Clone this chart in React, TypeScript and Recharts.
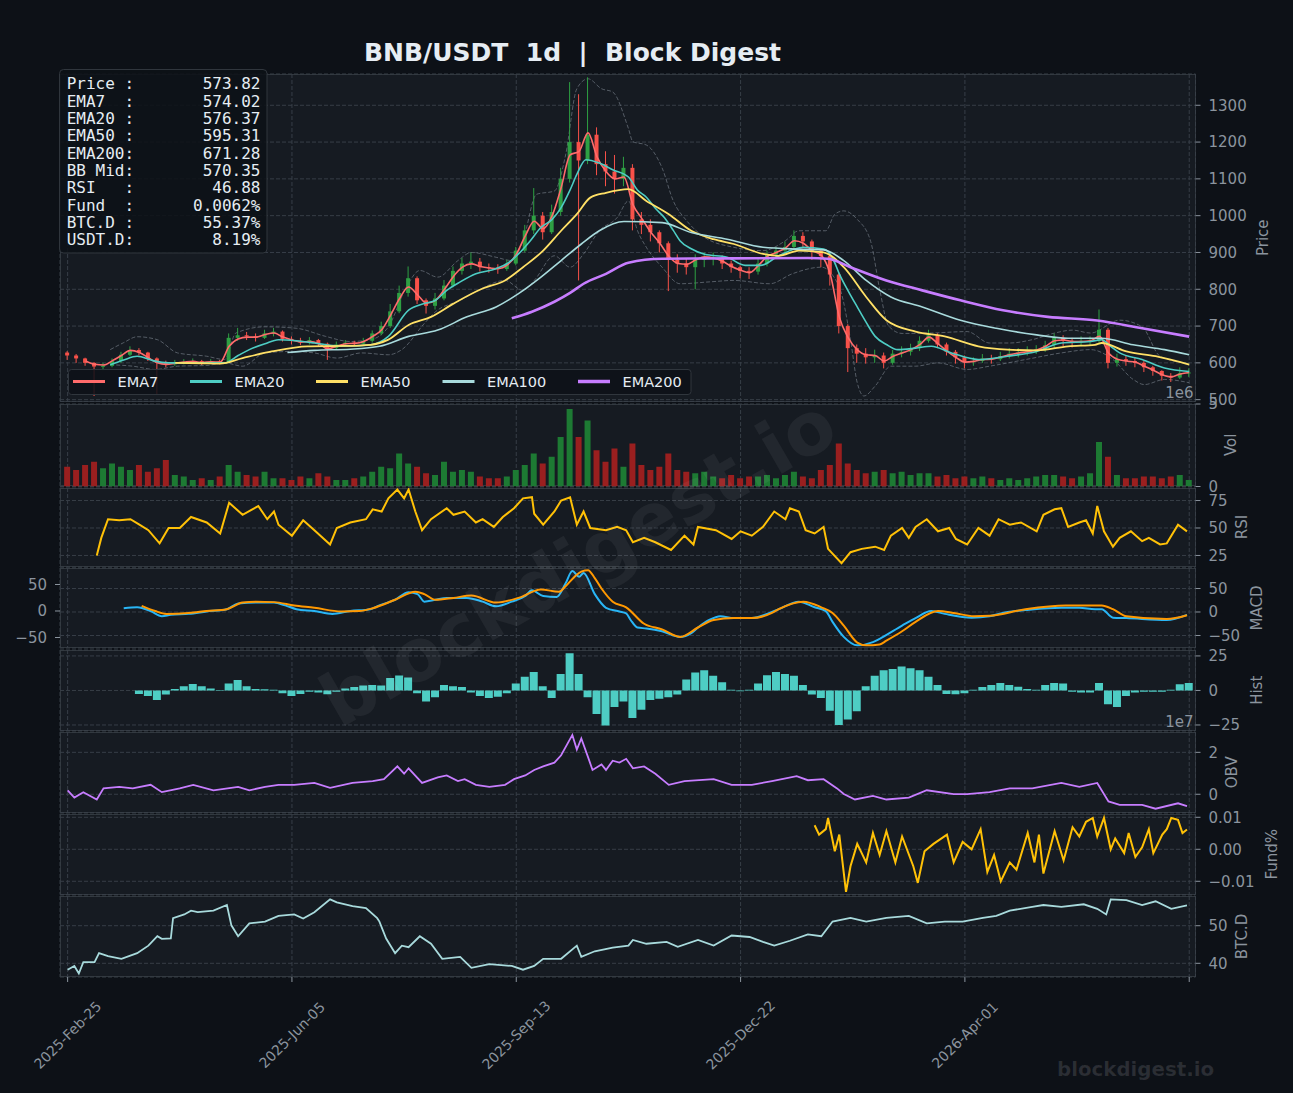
import React from 'react';
import { Bar, CartesianGrid, Cell, ComposedChart, Line, XAxis, YAxis } from 'recharts';

const W = 1293;
const H = 1093;
const BG = '#0d1117';
const PANEL_BG = '#161b22';
const SPINE = '#30363d';
const GRID = '#373e47';
const MUTED = '#8b949e';
const TEXT = '#e6edf3';
const FONT = 'DejaVu Sans, sans-serif';
const MONO = 'DejaVu Sans Mono, monospace';
const UP = '#2ea043';
const DOWN = '#f85149';
const UP_VOL = '#1d7a33';
const DOWN_VOL = '#9a1f1f';

// x axis: days since 2025-02-25
const X_DOMAIN: [number, number] = [-3.4, 502.8];
const X_TICKS = [0, 100, 200, 300, 400, 500];
const X_LABELS = ['2025-Feb-25', '2025-Jun-05', '2025-Sep-13', '2025-Dec-22', '2026-Apr-01', ''];

// candles, one every 4 days
const CANDLE_STEP = 4;
const FIRST_OPEN = 628;
const candleClose = [
  620, 612, 600, 590, 592, 605, 622, 635, 628, 612,
  600, 596, 600, 603, 605, 600, 604, 602, 668, 675,
  672, 668, 680, 685, 665, 660, 655, 662, 652, 640,
  650, 655, 652, 660, 680, 700, 740, 790, 830, 770,
  755, 775, 810, 850, 870, 875, 860, 858, 855, 870,
  905, 960, 1000, 955, 1010, 1100, 1200, 1150, 1220, 1140,
  1120, 1100, 1130, 990, 975, 955, 925, 880, 870, 860,
  880, 885, 885, 870, 860, 850, 848, 870, 895, 905,
  915, 945, 930, 905, 890, 840, 700, 640, 625, 615,
  620, 600, 625, 630, 640, 660, 675, 650, 630, 615,
  602, 605, 612, 610, 618, 625, 628, 632, 636, 648,
  668, 660, 655, 660, 660, 690, 600, 610, 605, 600,
  588, 578, 565, 560, 572, 573.82,
];
const candleHigh = [
  632, 624, 614, 602, 600, 612, 630, 645, 640, 630,
  615, 606, 608, 610, 612, 608, 610, 608, 680, 695,
  684, 680, 690, 695, 688, 672, 668, 670, 665, 655,
  658, 662, 660, 668, 688, 712, 760, 810, 862, 835,
  775, 790, 825, 862, 885, 900, 885, 870, 868, 880,
  915, 975, 1075, 1010, 1030, 1130, 1363, 1330, 1376, 1240,
  1175, 1165, 1160, 1140, 1010, 990, 960, 930, 895, 885,
  895, 900, 900, 892, 878, 865, 860, 882, 905, 915,
  930, 960, 955, 935, 910, 895, 845, 705, 650, 640,
  636, 628, 635, 645, 652, 672, 690, 680, 655, 635,
  620, 615, 624, 622, 630, 640, 640, 645, 648, 660,
  680, 675, 668, 672, 672, 745, 695, 625, 620, 615,
  605, 592, 580, 572, 588, 585,
];
const candleLow = [
  608, 600, 592, 510, 580, 588, 600, 618, 620, 605,
  515, 588, 592, 596, 598, 594, 597, 596, 600, 660,
  662, 658, 665, 672, 658, 650, 648, 650, 645, 608,
  635, 645, 646, 650, 655, 675, 695, 735, 780, 760,
  734, 745, 770, 805, 840, 855, 848, 845, 842, 850,
  865, 900, 950, 935, 950, 1000, 1090, 824, 1140, 1110,
  1080, 1060, 1080, 960, 950, 930, 900, 795, 845, 840,
  800, 860, 865, 855, 845, 830, 828, 840, 862, 885,
  895, 910, 915, 880, 860, 810, 680, 575, 600, 598,
  600, 585, 595, 615, 620, 632, 655, 640, 620, 598,
  585, 592, 600, 598, 605, 612, 615, 620, 624, 630,
  640, 645, 642, 645, 648, 655, 585, 590, 592, 588,
  575, 565, 552, 548, 556, 562,
];
// volume, millions
const candleVol = [
  1.2, 1.0, 1.3, 1.5, 1.1, 1.4, 1.2, 1.0, 1.3, 0.9,
  1.1, 1.6, 0.7, 0.6, 0.4, 0.5, 0.4, 0.6, 1.3, 0.9,
  0.7, 0.6, 0.9, 0.5, 0.5, 0.4, 0.6, 0.5, 0.8, 0.6,
  0.4, 0.4, 0.5, 0.6, 0.9, 1.2, 1.1, 2.0, 1.4, 1.2,
  0.8, 0.7, 1.5, 0.9, 1.0, 0.9, 0.6, 0.5, 0.5, 0.6,
  1.0, 1.3, 2.0, 1.4, 1.8, 3.0, 4.7, 3.0, 4.0, 2.2,
  1.5, 2.3, 1.2, 2.6, 1.3, 1.0, 1.2, 2.0, 1.0, 0.9,
  0.8, 0.9, 0.6, 0.5, 0.7, 0.5, 0.6, 0.6, 0.7, 0.5,
  0.7, 0.9, 0.6, 0.5, 1.0, 1.3, 2.6, 1.4, 1.0, 0.8,
  0.9, 1.0, 0.8, 0.9, 0.7, 0.8, 0.8, 0.6, 0.7, 0.5,
  0.6, 0.5, 0.6, 0.5, 0.4, 0.5, 0.4, 0.5, 0.6, 0.7,
  0.7, 0.6, 0.5, 0.6, 0.8, 2.7, 1.8, 0.7, 0.5, 0.5,
  0.6, 0.6, 0.5, 0.6, 0.7, 0.4,
];
const ema7 = [
  null, null, 605, 596, 594, 606, 620, 634, 628, 614,
  600, 596, 599, 602, 604, 601, 603, 602, 645, 665,
  670, 670, 677, 681, 670, 662, 657, 658, 652, 638,
  645, 652, 653, 658, 672, 690, 730, 775, 806, 785,
  762, 770, 800, 835, 860, 869, 862, 858, 856, 866,
  895, 945, 985, 965, 1000, 1076, 1165, 1175, 1225, 1160,
  1120, 1100, 1105, 1030, 992, 955, 925, 890, 870, 868,
  880, 888, 885, 876, 862, 852, 845, 865, 890, 900,
  912, 932, 925, 905, 892, 840, 725, 668, 636, 622,
  620, 605, 618, 627, 636, 650, 670, 652, 632, 615,
  602, 604, 609, 610, 616, 622, 627, 630, 635, 645,
  660, 662, 658, 658, 660, 672, 627, 610, 605, 602,
  591, 580, 568, 562, 570, 574.02,
];

const ema20Pts = [
  [19, 595], [25, 608], [31, 618], [38, 606], [45, 600], [55, 600], [70, 600], [76, 620], [81, 636], [88, 652],
  [94, 663], [102, 660], [110, 654], [118, 647], [123, 645], [135, 649], [143, 672], [152, 743], [159, 761], [164, 770],
  [169, 797], [175, 820], [182, 842], [191, 856], [196, 870], [201, 896], [206, 930], [211, 968], [216, 990], [220, 1022],
  [224, 1070], [227, 1112], [231, 1152], [237, 1143], [243, 1125], [250, 1105], [254, 1070], [258, 1050], [262, 1020], [266, 995],
  [270, 960], [273, 932], [278, 910], [284, 895], [294, 887], [302, 865], [309, 865], [317, 891], [328, 914], [337, 909],
  [341, 885], [344, 842], [348, 795], [352, 752], [356, 710], [360, 672], [365, 650], [370, 636], [378, 640], [385, 645],
  [394, 627], [406, 609], [419, 618], [432, 631], [443, 654], [456, 658], [461, 663], [465, 645], [469, 627], [479, 609],
  [489, 586], [500, 576.37],
];
const ema50Pts = [
  [48, 600], [60, 599], [68, 598], [78, 613], [91, 631], [107, 645], [123, 646], [135, 649], [143, 663], [152, 703],
  [162, 725], [172, 761], [185, 802], [195, 824], [203, 860], [212, 905], [220, 959], [227, 1004], [233, 1049], [240, 1062],
  [250, 1072], [258, 1040], [268, 1004], [278, 959], [288, 936], [297, 923], [310, 896], [317, 891], [326, 905], [337, 900],
  [346, 860], [356, 779], [365, 716], [378, 685], [391, 672], [406, 645], [419, 636], [432, 634], [446, 645], [458, 649],
  [461, 654], [472, 631], [485, 618], [500, 595.31],
];
const ema100Pts = [
  [98, 628], [110, 634], [126, 637], [139, 645], [152, 672], [165, 689], [178, 725], [191, 752], [201, 788], [211, 833],
  [220, 878], [229, 923], [237, 959], [248, 984], [265, 981], [278, 954], [294, 936], [310, 914], [326, 909], [337, 907],
  [346, 878], [356, 824], [367, 779], [381, 752], [398, 716], [414, 694], [432, 676], [446, 667], [461, 667], [475, 649],
  [489, 636], [500, 622],
];
const ema200Pts = [
  [198, 721], [207, 739], [217, 766], [224, 790], [230, 815], [240, 842], [250, 872], [265, 883], [297, 884], [330, 885],
  [339, 883], [349, 860], [365, 824], [381, 797], [398, 770], [417, 743], [437, 725], [459, 715], [479, 694], [500, 671.28],
];
const bbUpperPts = [
  [19, 636], [25, 655], [31, 671], [40, 663], [49, 627], [62, 618], [70, 609], [75, 681], [88, 698], [102, 694],
  [115, 672], [126, 658], [135, 663], [143, 698], [151, 806], [157, 851], [165, 833], [174, 878], [180, 900], [191, 887],
  [198, 878], [203, 932], [209, 1058], [217, 1067], [222, 1165], [227, 1345], [232, 1372], [238, 1345], [243, 1336], [250, 1237],
  [252, 1201], [258, 1192], [265, 1130], [270, 1040], [276, 986], [284, 941], [297, 914], [310, 905], [320, 932], [326, 959],
  [338, 959], [342, 1004], [346, 1013], [352, 990], [358, 930], [362, 800], [366, 700], [372, 680], [385, 681], [401, 685],
  [411, 654], [420, 654], [430, 663], [440, 681], [448, 689], [456, 681], [469, 716], [479, 698], [487, 618], [500, 598],
];
const bbLowerPts = [
  [19, 595], [29, 591], [39, 582], [49, 591], [62, 593], [70, 600], [78, 591], [88, 627], [100, 631], [110, 627],
  [120, 613], [131, 627], [143, 622], [149, 636], [159, 707], [164, 739], [175, 770], [183, 797], [195, 824], [203, 797],
  [208, 824], [217, 891], [224, 860], [230, 896], [237, 959], [245, 995], [250, 1040], [254, 960], [258, 914], [265, 860],
  [273, 815], [286, 820], [297, 824], [313, 815], [323, 842], [336, 860], [344, 806], [349, 663], [352, 546], [355, 510],
  [360, 537], [367, 591], [378, 591], [388, 600], [401, 582], [411, 591], [427, 609], [443, 627], [456, 636], [466, 609],
  [475, 555], [480, 541], [489, 555], [500, 546],
];

const rsiPts = [
  [13, 25], [15, 41], [18, 58], [23, 57], [28, 58], [32, 53], [36, 48], [41, 36], [45, 50], [50, 50],
  [55, 60], [62, 55], [68, 45], [72, 73], [78, 62], [85, 70], [89, 58], [92, 65], [94, 53], [100, 43],
  [105, 57], [110, 48], [117, 35], [120, 50], [126, 55], [133, 58], [136, 67], [140, 65], [143, 77], [147, 85],
  [150, 77], [152, 85], [155, 65], [158, 48], [162, 58], [169, 68], [172, 62], [177, 65], [182, 55], [185, 58],
  [190, 51], [194, 60], [199, 68], [203, 77], [207, 78], [208, 63], [212, 53], [217, 65], [220, 75], [224, 78],
  [227, 53], [230, 65], [233, 50], [240, 48], [245, 51], [249, 48], [252, 37], [257, 41], [262, 37], [269, 30],
  [275, 43], [279, 35], [281, 51], [289, 48], [296, 40], [300, 47], [305, 43], [310, 51], [315, 65], [320, 58],
  [322, 68], [326, 65], [329, 48], [333, 45], [337, 51], [339, 31], [345, 18], [349, 28], [354, 31], [360, 33],
  [364, 30], [367, 43], [372, 50], [375, 41], [378, 51], [383, 58], [388, 47], [393, 50], [396, 40], [401, 35],
  [406, 50], [411, 43], [415, 58], [420, 53], [425, 55], [432, 47], [435, 62], [440, 67], [443, 68], [446, 51],
  [451, 55], [454, 57], [457, 45], [459, 70], [462, 47], [466, 33], [469, 41], [474, 47], [479, 38], [482, 41],
  [487, 35], [490, 36], [495, 53], [499, 46.88],
];
const macdPts = [
  [25, 8], [31, 10], [37, 2], [42, -9], [46, -6], [54, -4], [62, 1], [71, 6], [76, 18], [84, 20],
  [92, 20], [97, 14], [102, 6], [110, 2], [118, -4], [126, 2], [135, 6], [139, 14], [146, 26], [152, 42],
  [156, 38], [159, 22], [164, 26], [169, 30], [178, 30], [185, 22], [191, 12], [198, 22], [204, 34], [207, 46],
  [212, 34], [218, 32], [222, 61], [225, 87], [228, 75], [230, 83], [235, 38], [240, 9], [246, 1], [249, -3],
  [251, -17], [254, -33], [258, -35], [265, -41], [273, -53], [278, -45], [281, -33], [286, -17], [291, -9], [297, -13],
  [305, -13], [313, -2], [317, 6], [326, 22], [333, 10], [338, 2], [341, -21], [346, -53], [352, -71], [359, -64],
  [362, -57], [372, -29], [378, -13], [385, 2], [391, -4], [403, -12], [411, -9], [419, 0], [427, 4], [443, 9],
  [451, 9], [458, 6], [461, 6], [466, -12], [472, -13], [490, -17], [499, -6],
];
const signalPts = [
  [33, 13], [39, 2], [44, -4], [54, -2], [62, 2], [71, 6], [78, 20], [84, 22], [92, 21], [101, 14],
  [110, 9], [122, 1], [130, 2], [136, 8], [146, 26], [155, 43], [159, 38], [164, 26], [172, 30], [180, 35],
  [191, 20], [201, 30], [211, 48], [219, 43], [222, 55], [226, 75], [229, 86], [232, 89], [235, 72], [238, 50],
  [243, 22], [249, 10], [257, -25], [265, -37], [273, -53], [281, -33], [288, -17], [297, -13], [305, -13], [314, -2],
  [317, 6], [328, 22], [336, 10], [341, -2], [346, -29], [352, -65], [356, -71], [362, -69], [365, -61], [372, -41],
  [378, -21], [388, 2], [395, -2], [404, -9], [411, -8], [427, 6], [445, 14], [461, 14], [466, 6], [472, -9],
  [490, -15], [499, -7],
];
// histogram every 4 days from day 32
const HIST_START = 32;
const histVals = [
  -2.5, -4, -7, -3, 1, 3, 4.7, 3, 1.5, 0.3,
  5, 7.5, 3, 1, 0.8, 0.5, -2, -4, -2.5, -1,
  -1.5, -2.7, -1, 1.5, 2.5, 3.5, 4, 3.5, 9, 10.8,
  9.4, -2, -8, -5, 4, 3, 2.5, -1.5, -4, -5.4,
  -4.5, -2, 5, 10, 13.4, 3, -5.4, 12, 27, 12,
  -5, -17, -25.4, -12, -8, -20, -14, -7, -6, -5,
  -3, 8, 13, 14.7, 10.7, 6, 0.5, -0.5, 0.5, 5,
  11, 13.4, 12, 10.7, 4, -3, -5.4, -14.7, -25, -21,
  -15, 3, 10.7, 14.7, 15.5, 17.4, 16, 14.7, 10, 4,
  -2.5, -2.7, -2, 0.5, 2.5, 4, 5.4, 4, 2.7, 1,
  0.5, 4, 5.4, 5, -1, -1.5, -1.5, 5.4, -10, -12,
  -4, -1.5, -1, -1, -1, 0.5, 4.5, 5.4,
];
// OBV, units of 1e7
const obvPts = [
  [0, 0.19], [3, -0.16], [7, 0.1], [13, -0.25], [16, 0.28], [23, 0.35], [29, 0.28], [37, 0.45], [42, 0.1], [50, 0.28],
  [56, 0.45], [65, 0.19], [76, 0.35], [81, 0.19], [88, 0.35], [94, 0.45], [101, 0.45], [110, 0.54], [117, 0.31], [127, 0.54],
  [136, 0.63], [141, 0.72], [147, 1.33], [150, 0.98], [152, 1.24], [158, 0.54], [165, 0.81], [169, 0.9], [174, 0.63], [177, 0.72],
  [182, 0.45], [188, 0.35], [195, 0.45], [199, 0.72], [204, 0.9], [208, 1.16], [212, 1.33], [217, 1.51], [220, 1.86], [225, 2.83],
  [227, 2.13], [229, 2.66], [232, 1.77], [234, 1.16], [238, 1.42], [240, 1.16], [243, 1.6], [246, 1.51], [249, 1.69], [252, 1.24],
  [257, 1.33], [262, 0.98], [268, 0.45], [275, 0.63], [288, 0.72], [296, 0.45], [305, 0.45], [314, 0.63], [325, 0.86], [330, 0.67],
  [337, 0.72], [343, 0.28], [346, 0.01], [351, -0.25], [359, -0.08], [365, -0.25], [375, -0.16], [383, 0.19], [395, 0.01], [401, 0.01],
  [411, 0.1], [420, 0.28], [430, 0.28], [443, 0.54], [451, 0.35], [459, 0.54], [464, -0.34], [469, -0.51], [479, -0.51], [485, -0.69],
  [495, -0.43], [499, -0.57],
];
// funding rate, percent
const fundPts = [
  [333, 0.0075], [335, 0.0046], [338, 0.0063], [339, 0.0098], [342, -0.0006], [344, 0.0046], [347, -0.0133], [349, -0.0053], [352, 0.0017], [354, -0.0012],
  [356, -0.0041], [359, 0.0051], [362, -0.0018], [365, 0.0057], [369, -0.0041], [372, 0.004], [377, -0.0053], [379, -0.0105], [382, -0.0006], [386, 0.0017],
  [392, 0.0046], [395, -0.0041], [399, 0.0023], [403, 0], [407, 0.0063], [410, -0.0071], [413, -0.0018], [416, -0.01], [420, -0.0041], [423, -0.0064],
  [425, -0.0018], [428, 0.0051], [431, -0.0041], [433, 0.0046], [435, -0.0076], [440, 0.0057], [444, -0.0035], [448, 0.0069], [451, 0.004], [454, 0.0086],
  [457, 0.0098], [459, 0.004], [462, 0.0098], [465, 0], [467, 0.0034], [471, -0.0012], [473, 0.0051], [476, -0.0024], [479, 0.0006], [482, 0.0063],
  [484, -0.0012], [488, 0.0046], [490, 0.0063], [492, 0.0098], [495, 0.0092], [497, 0.0051], [499, 0.0062],
];
const btcdPts = [
  [0, 38.3], [3, 39.3], [5, 37.3], [7, 40.3], [12, 40.3], [14, 42.7], [18, 41.9], [24, 41.2], [31, 42.7], [36, 44.7],
  [40, 47.2], [42, 46.5], [46, 46.6], [47, 52], [52, 53], [55, 54], [58, 53.6], [65, 54], [71, 55.5], [73, 50.1],
  [76, 47.2], [81, 50.6], [88, 51.1], [94, 52.6], [101, 53], [105, 51.9], [110, 53.6], [117, 57], [120, 56.2], [127, 55.2],
  [133, 54.7], [138, 52], [139, 51.1], [142, 46.6], [146, 42.7], [149, 44.7], [152, 44.3], [157, 47.2], [162, 45.2], [167, 41.2],
  [175, 41.7], [180, 38.8], [188, 39.8], [198, 39.3], [203, 38.3], [208, 39.3], [212, 41.2], [220, 41.2], [227, 44.7], [229, 41.7],
  [235, 43.2], [243, 44.2], [250, 44.7], [252, 46.2], [258, 45.2], [267, 45.7], [272, 44.4], [281, 46.2], [288, 44.7], [296, 47.4],
  [304, 47], [310, 45.7], [315, 44.7], [322, 46], [330, 47.7], [336, 47.2], [341, 51.1], [349, 52.1], [356, 51.1], [365, 52.1],
  [375, 52.6], [383, 50.6], [391, 51.1], [399, 51.1], [408, 52.1], [414, 52.6], [420, 54], [430, 55], [435, 55.5], [443, 55],
  [453, 55.7], [459, 54.5], [463, 53], [465, 57], [472, 56.8], [479, 55.5], [485, 56.5], [492, 54.5], [499, 55.4],
];

const INFO = [
  ['Price :', '573.82'],
  ['EMA7  :', '574.02'],
  ['EMA20 :', '576.37'],
  ['EMA50 :', '595.31'],
  ['EMA200:', '671.28'],
  ['BB Mid:', '570.35'],
  ['RSI   :', '46.88'],
  ['Fund  :', '0.0062%'],
  ['BTC.D :', '55.37%'],
  ['USDT.D:', '8.19%'],
];

const EMA_SERIES = [
  { key: 'e7', label: 'EMA7', color: '#ff6b6b', width: 1.6, lx: 73 },
  { key: 'e20', label: 'EMA20', color: '#4ecdc4', width: 1.6, lx: 190 },
  { key: 'e50', label: 'EMA50', color: '#ffe066', width: 1.8, lx: 316 },
  { key: 'e100', label: 'EMA100', color: '#a8dadc', width: 1.6, lx: 442.5 },
  { key: 'e200', label: 'EMA200', color: '#c77dff', width: 2.6, lx: 578 },
];

function merge(cols: Record<string, number[][]>) {
  const rows = new Map<number, Record<string, number>>();
  Object.entries(cols).forEach(([key, pts]) => {
    pts.forEach(([x, v]) => {
      const row = rows.get(x) ?? { x };
      row[key] = v;
      rows.set(x, row);
    });
  });
  return Array.from(rows.values()).sort((a, b) => a.x - b.x);
}

const candleDays = candleClose.map((_, i) => i * CANDLE_STEP);
const candleRows = candleClose.map((c, i) => ({
  x: candleDays[i],
  o: i ? candleClose[i - 1] : FIRST_OPEN,
  h: candleHigh[i],
  l: candleLow[i],
  c,
}));
const volRows = candleRows.map((r, i) => ({ x: r.x, v: candleVol[i], up: r.c >= r.o }));
const histRows = histVals.map((v, i) => ({ x: HIST_START + i * CANDLE_STEP, h: v }));
const ema7Pts = ema7.map((v, i) => [candleDays[i], v]).filter((p) => p[1] != null) as number[][];
const emaRows = merge({ e7: ema7Pts, e20: ema20Pts, e50: ema50Pts, e100: ema100Pts, e200: ema200Pts });
const bbRows = merge({ up: bbUpperPts, lo: bbLowerPts });
const macdRows = merge({ macd: macdPts, sig: signalPts });
const rsiRows = merge({ rsi: rsiPts });
const obvRows = merge({ obv: obvPts });
const fundRows = merge({ fund: fundPts });
const btcRows = merge({ btc: btcdPts });

const num = (v: number) => (v < 0 ? '\u2212' + Math.abs(v) : String(v));
const fund2 = (v: number) => (v < 0 ? '\u2212' : '') + Math.abs(v).toFixed(2);

const Candle = (p: any) => {
  const { x, y, width, height, payload } = p;
  if (!payload || payload.c == null || !Number.isFinite(y) || !Number.isFinite(height)) return null;
  const top = Math.min(y, y + height);
  const bot = Math.max(y, y + height);
  const span = payload.h - payload.l || 1;
  const py = (v: number) => top + ((payload.h - v) / span) * (bot - top);
  const up = payload.c >= payload.o;
  const col = up ? UP : DOWN;
  const cx = x + width / 2;
  const bTop = py(Math.max(payload.o, payload.c));
  const bBot = py(Math.min(payload.o, payload.c));
  return (
    <g>
      <line x1={cx} x2={cx} y1={top} y2={bot} stroke={col} strokeWidth={1} />
      <rect x={x} y={bTop} width={width} height={Math.max(1, bBot - bTop)} fill={col} />
    </g>
  );
};

const XTick = (p: any) => {
  const { x, y, payload } = p;
  const label = X_LABELS[X_TICKS.indexOf(payload.value)];
  if (!label) return null;
  const cy = y + 51;
  return (
    <text x={x} y={cy} transform={`rotate(-45 ${x} ${cy})`} textAnchor="middle" dominantBaseline="central"
      fill={MUTED} fontSize={14} fontFamily={FONT}>
      {label}
    </text>
  );
};

const NoTick = () => <g />;

type PanelProps = {
  top: number;
  h: number;
  data: any[];
  domain: [number, number];
  ticks: number[];
  fmt?: (v: number) => string;
  visible?: boolean;
  bottom?: boolean;
  left?: { domain: [number, number]; ticks: number[] };
  children?: React.ReactNode;
};

function Panel({ top, h, data, domain, ticks, fmt, visible = true, bottom = false, left, children }: PanelProps) {
  return (
    <div style={{ position: 'absolute', left: 0, top }}>
      <ComposedChart width={W} height={h + (bottom ? 100 : 0)} data={data}
        margin={{ top: 0, right: 22.5, bottom: 0, left: left ? 0 : 60 }}>
        {visible && <CartesianGrid stroke={GRID} strokeDasharray="4 2" />}
        <XAxis dataKey="x" type="number" domain={X_DOMAIN} allowDataOverflow ticks={X_TICKS} interval={0}
          height={bottom ? 100 : 0} axisLine={false} tickSize={5}
          tick={bottom ? (tp: any) => <XTick {...tp} /> : NoTick}
          tickLine={bottom ? { stroke: MUTED } : false} />
        <YAxis orientation="right" type="number" domain={domain} allowDataOverflow ticks={ticks} interval={0}
          width={75} tickSize={5} tickMargin={8} axisLine={false}
          tick={visible ? { fill: MUTED, fontSize: 15, fontFamily: FONT } : false}
          tickLine={visible ? { stroke: MUTED } : false}
          tickFormatter={fmt ?? num} />
        {left && (
          <YAxis yAxisId="l" orientation="left" type="number" domain={left.domain} allowDataOverflow ticks={left.ticks}
            interval={0} width={60} tickSize={5} tickMargin={8} axisLine={false}
            tick={{ fill: MUTED, fontSize: 15, fontFamily: FONT }} tickLine={{ stroke: MUTED }} tickFormatter={num} />
        )}
        {children}
      </ComposedChart>
    </div>
  );
}

const FRAMES = [
  { top: 74, h: 327.5 },
  { top: 403.5, h: 82.5 },
  { top: 487.5, h: 79 },
  { top: 568, h: 80 },
  { top: 650, h: 80.5 },
  { top: 732, h: 80.5 },
  { top: 814, h: 80.5 },
  { top: 896, h: 81 },
];

const AXIS_TITLES: [string, number, number][] = [
  ['Price', 1263, 237.75],
  ['Vol', 1231, 444.75],
  ['RSI', 1242, 527],
  ['MACD', 1256.5, 608],
  ['Hist', 1256.5, 690.25],
  ['OBV', 1232, 772.25],
  ['Fund%', 1271.5, 854.25],
  ['BTC.D', 1242, 936.5],
];

export default function App() {
  const [pr, vo, rs, ma, hi, ob, fu, bt] = FRAMES;
  return (
    <div style={{ position: 'absolute', left: 0, top: 0, width: W, height: H, background: BG, overflow: 'hidden', fontFamily: FONT }}>
      <style>{'.recharts-surface { overflow: visible; }'}</style>
      {FRAMES.map((f, i) => (
        <div key={i} style={{ position: 'absolute', left: 60, top: f.top, width: 1135.5, height: f.h,
          background: PANEL_BG, border: `1px solid ${SPINE}`, boxSizing: 'border-box' }} />
      ))}

      {/* price: bands + grid */}
      <Panel top={pr.top} h={pr.h} data={bbRows} domain={[495, 1385]} ticks={[500, 600, 700, 800, 900, 1000, 1100, 1200, 1300]}>
        <Line dataKey="up" type="monotone" stroke={MUTED} strokeOpacity={0.55} strokeWidth={1} strokeDasharray="4 2"
          dot={false} connectNulls isAnimationActive={false} />
        <Line dataKey="lo" type="monotone" stroke={MUTED} strokeOpacity={0.55} strokeWidth={1} strokeDasharray="4 2"
          dot={false} connectNulls isAnimationActive={false} />
      </Panel>
      {/* price: candles */}
      <Panel top={pr.top} h={pr.h} data={candleRows} domain={[495, 1385]} ticks={[500]} visible={false}>
        <Bar dataKey={(r: any) => [r.l, r.h]} barSize={4} shape={Candle} isAnimationActive={false} />
      </Panel>
      {/* price: moving averages */}
      <Panel top={pr.top} h={pr.h} data={emaRows} domain={[495, 1385]} ticks={[500]} visible={false}>
        {EMA_SERIES.map((s) => (
          <Line key={s.key} dataKey={s.key} type="monotone" stroke={s.color} strokeWidth={s.width}
            dot={false} connectNulls isAnimationActive={false} />
        ))}
      </Panel>

      <Panel top={vo.top} h={vo.h} data={volRows} domain={[0, 5]} ticks={[0, 5]}>
        <Bar dataKey="v" barSize={6} isAnimationActive={false}>
          {volRows.map((r, i) => (
            <Cell key={i} fill={r.up ? UP_VOL : DOWN_VOL} />
          ))}
        </Bar>
      </Panel>

      <Panel top={rs.top} h={rs.h} data={rsiRows} domain={[14.5, 86.4]} ticks={[25, 50, 75]}>
        <Line dataKey="rsi" type="linear" stroke="#ffc107" strokeWidth={2} dot={false} connectNulls isAnimationActive={false} />
      </Panel>

      <Panel top={ma.top} h={ma.h} data={macdRows} domain={[-76.6, 93.6]} ticks={[-50, 0, 50]}
        left={{ domain: [-69.8, 81.1], ticks: [-50, 0, 50] }}>
        <Line yAxisId="l" dataKey="macd" stroke="none" dot={false} connectNulls isAnimationActive={false} />
        <Line dataKey="macd" type="monotone" stroke="#29b6f6" strokeWidth={2} dot={false} connectNulls isAnimationActive={false} />
        <Line dataKey="sig" type="monotone" stroke="#ff9800" strokeWidth={2} dot={false} connectNulls isAnimationActive={false} />
      </Panel>

      <Panel top={hi.top} h={hi.h} data={histRows} domain={[-29, 29.3]} ticks={[-25, 0, 25]}>
        <Bar dataKey="h" barSize={8} fill="#4ecdc4" isAnimationActive={false} />
      </Panel>

      <Panel top={ob.top} h={ob.h} data={obvRows} domain={[-0.87, 2.97]} ticks={[0, 2]}>
        <Line dataKey="obv" type="linear" stroke="#c77dff" strokeWidth={1.8} dot={false} connectNulls isAnimationActive={false} />
      </Panel>

      <Panel top={fu.top} h={fu.h} data={fundRows} domain={[-0.01413, 0.01103]} ticks={[-0.01, 0, 0.01]} fmt={fund2}>
        <Line dataKey="fund" type="linear" stroke="#ffc107" strokeWidth={2} dot={false} connectNulls isAnimationActive={false} />
      </Panel>

      <Panel top={bt.top} h={bt.h} data={btcRows} domain={[36.36, 57.9]} ticks={[40, 50]} bottom>
        <Line dataKey="btc" type="linear" stroke="#a8dadc" strokeWidth={1.8} dot={false} connectNulls isAnimationActive={false} />
      </Panel>

      <svg width={W} height={H} style={{ position: 'absolute', left: 0, top: 0, pointerEvents: 'none' }}>
        <text x={578} y={562} transform="rotate(-30 578 562)" textAnchor="middle" dominantBaseline="central"
          fontSize={73} fontWeight="bold" fontFamily={FONT} fill="#ffffff" fillOpacity={0.055}>
          blockdigest.io
        </text>
        <text x={1057} y={1076} fontSize={19.8} fontWeight="bold" fontFamily={FONT} fill="#ffffff" fillOpacity={0.12}>
          blockdigest.io
        </text>

        <text x={572.5} y={61} textAnchor="middle" fontSize={25} fontWeight="bold" fontFamily={FONT} fill={TEXT}>
          BNB/USDT{'\u00a0\u00a0'}1d{'\u00a0\u00a0'}|{'\u00a0\u00a0'}Block Digest
        </text>

        {AXIS_TITLES.map(([t, x, y]) => (
          <text key={t} x={x} y={y} transform={`rotate(-90 ${x} ${y})`} textAnchor="middle" dominantBaseline="central"
            fontSize={15} fontFamily={FONT} fill={MUTED}>
            {t}
          </text>
        ))}
        <text x={1193.5} y={398} textAnchor="end" fontSize={15} fontFamily={FONT} fill={MUTED}>1e6</text>
        <text x={1193.5} y={726.5} textAnchor="end" fontSize={15} fontFamily={FONT} fill={MUTED}>1e7</text>

        <rect x={59.5} y={69.5} width={207.5} height={183.5} rx={4} fill={BG} fillOpacity={0.88} stroke={SPINE} />
        {INFO.map(([k, v], i) => (
          <g key={k} fontFamily={MONO} fontSize={16} fill={TEXT}>
            <text x={66.7} y={89.4 + i * 17.3} style={{ whiteSpace: 'pre' }}>{k}</text>
            <text x={260.5} y={89.4 + i * 17.3} textAnchor="end">{v}</text>
          </g>
        ))}

        <rect x={68.5} y={369.5} width={622.5} height={25} rx={3} fill={BG} fillOpacity={0.85} stroke={SPINE} />
        {EMA_SERIES.map((s) => (
          <g key={s.key}>
            <line x1={s.lx} x2={s.lx + 32} y1={381.5} y2={381.5} stroke={s.color} strokeWidth={s.key === 'e200' ? 3.5 : 3} />
            <text x={s.lx + 44.5} y={381.5} dominantBaseline="central" fontSize={14.5} fontFamily={FONT} fill={TEXT}>
              {s.label}
            </text>
          </g>
        ))}
      </svg>
    </div>
  );
}
